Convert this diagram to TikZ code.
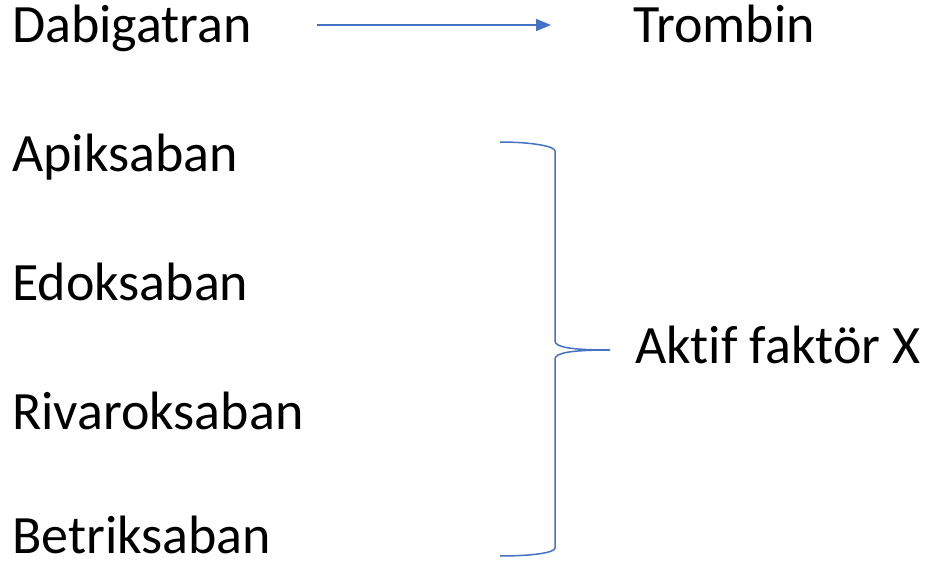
\documentclass[tikz,border=0pt]{standalone}
\usepackage{fontspec}
\setmainfont[Ligatures=NoCommon]{Carlito}
\usepackage{tikz}
\usetikzlibrary{positioning, arrows.meta, calc}
\definecolor{linkblue}{RGB}{68, 114, 196}

\begin{document}
\begin{tikzpicture}[x=1pt, y=-1pt,
    drug/.style={anchor=base west, inner sep=0pt, font=\fontsize{54}{60}\selectfont},
    link/.style={draw=linkblue, line width=1.5pt}]
  \useasboundingbox (0,0) rectangle (931,561);
  % drugs
  \node[drug] (dabigatran) at (12,43) {Dabigatran};
  \node[drug] (apiksaban) at (12,172) {Apiksaban};
  \node[drug] (edoksaban) at (12,300) {Edoksaban};
  \node[drug] (rivaroksaban) at (12,429) {Rivaroksaban};
  \node[drug] (betriksaban) at (12,553) {Betriksaban};
  % targets
  \node[drug] (trombin) at (633,43) {Trombin};
  \node[drug] (faktorx) at (635,363) {Aktif faktör X};
  % thrombin inhibitor
  \coordinate (arrstart) at (317,25);
  \coordinate (arrend) at (551,25);
  \draw[link, -{Triangle[length=15pt, width=12pt]}] (arrstart) -- (arrend);
  % factor Xa brace
  \coordinate (brtop) at (500,142);
  \coordinate (brtip) at (610,350);
  \coordinate (brbot) at (500,556);
  \draw[link] (brtop) .. controls (530,142) and (555,146) .. (555,151)
    -- (555,341) .. controls (555,347) and (570,350) .. (brtip)
    .. controls (570,350) and (555,353) .. (555,359)
    -- (555,548) .. controls (555,553) and (530,556) .. (brbot);
\end{tikzpicture}
\end{document}
